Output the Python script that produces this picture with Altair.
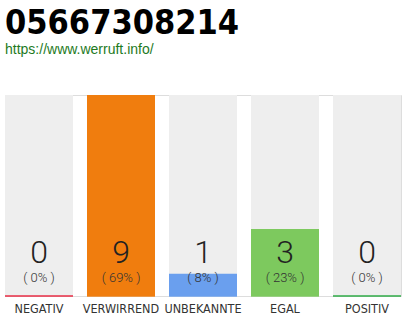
import altair as alt
import pandas as pd

# Ratings for the number and how many people gave each one
categories = ["NEGATIV", "VERWIRREND", "UNBEKANNTE", "EGAL", "POSITIV"]
counts = [0, 9, 1, 3, 0]
percents = [0, 69, 8, 23, 0]
bar_colors = ["#e8213a", "#f07d0e", "#6a9fee", "#7dc95e", "#22a73c"]

max_count = max(counts)

df = pd.DataFrame({
    "cat": categories,
    "count": counts,
    "full": [max_count] * len(categories),
    "pct": [f"( {p}% )" for p in percents],
    "num": [str(c) for c in counts],
})

cond_font = "DejaVu Sans Condensed, Liberation Sans Narrow, sans-serif"
thin_font = "Roboto, Lato, sans-serif"

x = alt.X(
    "cat:N",
    sort=categories,
    scale=alt.Scale(paddingInner=14 / 82, paddingOuter=0),
    axis=alt.Axis(
        title=None, domain=False, ticks=False, labelAngle=0,
        labelFont=cond_font, labelFontSize=12.5, labelColor="#333333",
        labelPadding=6,
    ),
)
y_scale = alt.Scale(domain=[0, max_count], nice=False)
color = alt.Color("cat:N", scale=alt.Scale(domain=categories, range=bar_colors), legend=None)

base = alt.Chart(df).transform_calculate(y0="0")

background = base.mark_bar(color="#eeeeee").encode(
    x=x, y=alt.Y("full:Q", scale=y_scale, axis=None)
)
baseline = base.mark_tick(thickness=2, size=68).encode(
    x=x, y=alt.Y("y0:Q", scale=y_scale), color=color
)
bars = base.mark_bar().encode(
    x=x, y=alt.Y("count:Q", scale=y_scale), color=color
)
numbers = base.mark_text(
    font=thin_font, fontSize=32, fontWeight=300, color="#222222",
    baseline="alphabetic", dy=-33,
).encode(x=x, y=alt.Y("y0:Q", scale=y_scale), text="num:N")
pcts = base.mark_text(
    font=thin_font, fontSize=13, fontWeight=300, color="#333333",
    baseline="alphabetic", dy=-14,
).encode(x=x, y=alt.Y("y0:Q", scale=y_scale), text="pct:N")

chart = alt.layer(background, baseline, bars, numbers, pcts).properties(
    width=396,
    height=201,
    autosize=alt.AutoSizeParams(type="none"),
    padding={"left": 5, "top": 95, "right": 9, "bottom": 24},
    title=alt.TitleParams(
        text="05667308214",
        subtitle="https://www.werruft.info/",
        anchor="start",
        font=cond_font,
        fontSize=34,
        fontWeight="bold",
        color="#000000",
        subtitleFont="Liberation Sans, Arial, sans-serif",
        subtitleFontSize=14,
        subtitleColor="#1e7a1e",
        subtitlePadding=2,
        offset=38,
    ),
).configure_view(stroke=None).configure(background="white")

chart.save("out.html", embed_options={"renderer": "svg", "actions": False})
